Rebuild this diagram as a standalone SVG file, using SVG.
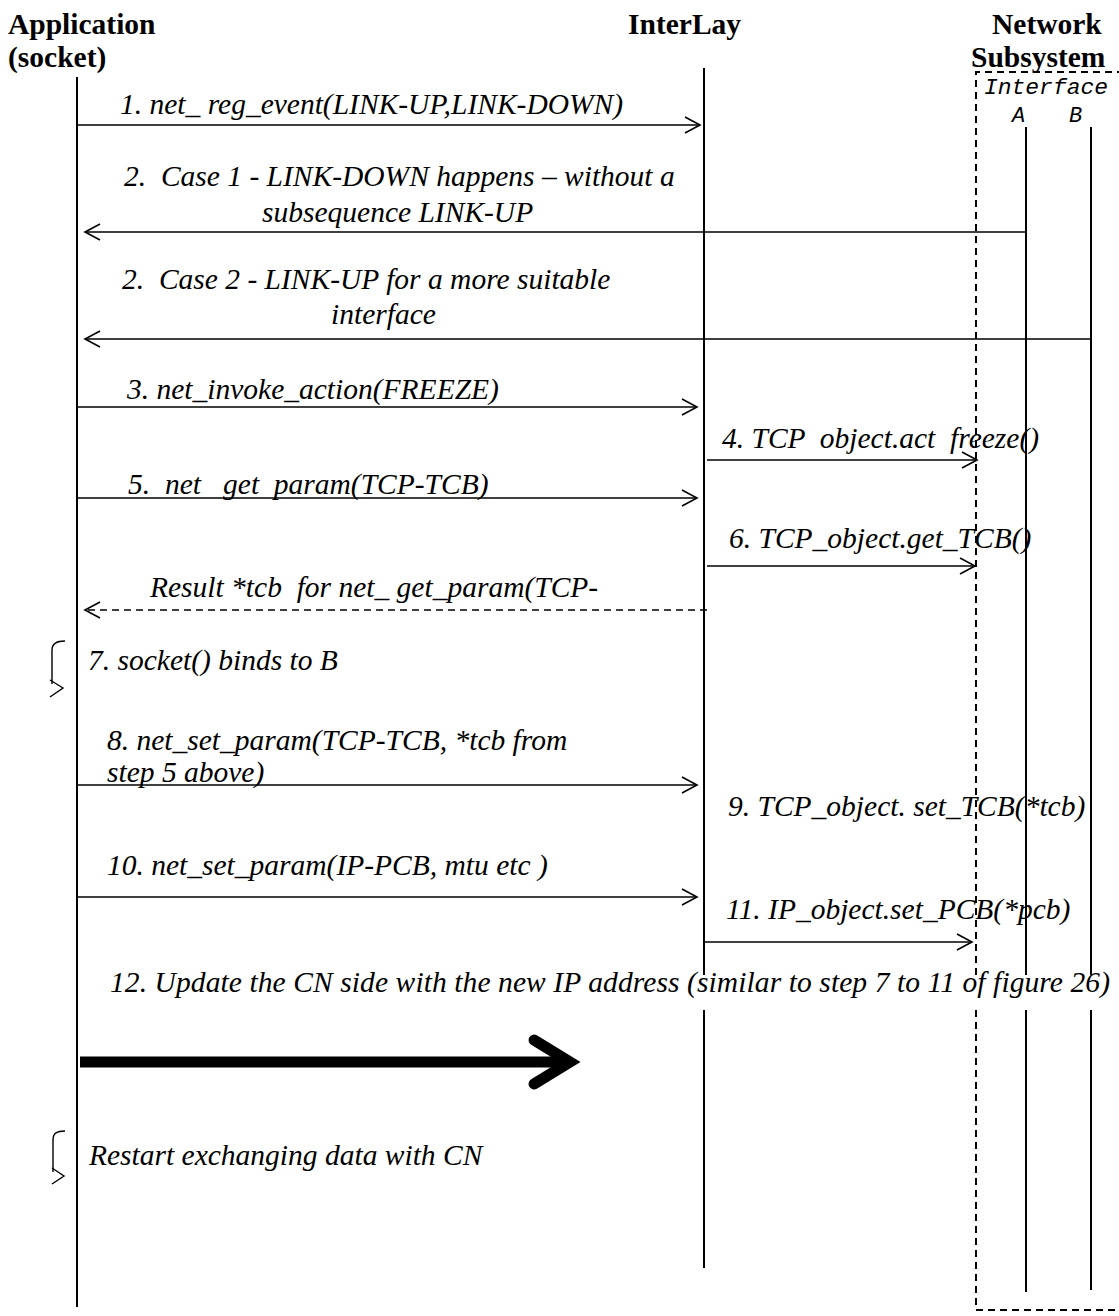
<svg xmlns="http://www.w3.org/2000/svg" width="1119" height="1316" viewBox="0 0 1119 1316">
<defs>
<marker id="open" markerUnits="userSpaceOnUse" markerWidth="20" markerHeight="20" refX="16" refY="9" orient="auto" overflow="visible">
<path d="M1,1 L16,9 L1,17" fill="none" stroke="#000" stroke-width="1.6"/>
</marker>
</defs>
<style>
.hd{font-family:"Liberation Serif","Times New Roman",serif;font-weight:bold;font-size:29.5px;fill:#000}
.lb{font-family:"Liberation Serif","Times New Roman",serif;font-style:italic;font-size:29.5px;fill:#000;white-space:pre}
.mono{font-family:"Liberation Mono","Courier New",monospace;font-style:italic;font-size:22px;fill:#000}
.life{stroke:#000;stroke-width:2;fill:none}
.msg{stroke:#000;stroke-width:1.6;fill:none;marker-end:url(#open)}
.dash{stroke:#000;stroke-width:2;fill:none;stroke-dasharray:7,5}
</style>
<rect width="1119" height="1316" fill="#fff"/>

<g id="application">
<text class="hd" x="8" y="34">Application</text>
<text class="hd" x="8" y="67">(socket)</text>
<line class="life" x1="77" y1="77" x2="77" y2="1307"/>
</g>

<g id="interlay">
<text class="hd" x="628" y="34">InterLay</text>
<line class="life" x1="704" y1="68" x2="704" y2="975"/>
<line class="life" x1="704" y1="1010" x2="704" y2="1268"/>
</g>

<g id="network-subsystem">
<text class="hd" x="992" y="34">Network</text>
<text class="hd" x="971" y="67">Subsystem</text>
<path class="dash" d="M976,975 L976,72 L1119,72"/>
<path class="dash" d="M976,1010 L976,1310 L1119,1310"/>
<text class="mono" x="984" y="94" textLength="124" lengthAdjust="spacingAndGlyphs">Interface</text>
</g>

<g id="interface-a">
<text class="mono" x="1012" y="122">A</text>
<line class="life" x1="1026" y1="127" x2="1026" y2="975"/>
<line class="life" x1="1026" y1="1010" x2="1026" y2="1292"/>
</g>

<g id="interface-b">
<text class="mono" x="1069" y="122">B</text>
<line class="life" x1="1091" y1="127" x2="1091" y2="975"/>
<line class="life" x1="1091" y1="1010" x2="1091" y2="1290"/>
</g>

<g id="connectors">
<line class="msg" x1="77" y1="125" x2="700" y2="125"/>
<line class="msg" x1="1026" y1="232" x2="85" y2="232"/>
<line class="msg" x1="1091" y1="339" x2="85" y2="339"/>
<line class="msg" x1="77" y1="407" x2="697" y2="407"/>
<line class="msg" x1="707" y1="460" x2="977" y2="460"/>
<line class="msg" x1="77" y1="498" x2="697" y2="498"/>
<line class="msg" x1="707" y1="566" x2="975" y2="566"/>
<line class="msg" x1="707" y1="610" x2="85" y2="610" stroke-dasharray="7,5"/>
<path d="M65,641 C57,641 52,643 52,650 L52,684" fill="none" stroke="#000" stroke-width="1.4"/>
<path d="M50,680 L63,688 L50,697" fill="none" stroke="#000" stroke-width="1.4"/>
<line class="msg" x1="77" y1="785" x2="697" y2="785"/>
<line class="msg" x1="77" y1="897" x2="697" y2="897"/>
<line class="msg" x1="704" y1="942" x2="972" y2="942"/>
<line x1="80" y1="1062" x2="565" y2="1062" stroke="#000" stroke-width="11"/>
<path d="M534,1040 L570,1062 L534,1084" fill="none" stroke="#000" stroke-width="11" stroke-linecap="round" stroke-linejoin="miter"/>
<path d="M65,1131 C57,1131 53,1133 53,1140 L53,1172" fill="none" stroke="#000" stroke-width="1.4"/>
<path d="M52,1168 L64,1176 L52,1184" fill="none" stroke="#000" stroke-width="1.4"/>
</g>

<g id="labels" xml:space="preserve">
<text class="lb" x="120" y="114">1. net_ reg_event(LINK-UP,LINK-DOWN)</text>
<text class="lb" x="124" y="186">2.  Case 1 - LINK-DOWN happens – without a</text>
<text class="lb" x="262" y="222">subsequence LINK-UP</text>
<text class="lb" x="122" y="289">2.  Case 2 - LINK-UP for a more suitable</text>
<text class="lb" x="331" y="324">interface</text>
<text class="lb" x="127" y="399">3. net_invoke_action(FREEZE)</text>
<text class="lb" x="722" y="448">4. TCP  object.act  freeze()</text>
<text class="lb" x="128" y="494">5.  net   get  param(TCP-TCB)</text>
<text class="lb" x="729" y="548">6. TCP_object.get_TCB()</text>
<text class="lb" x="150" y="597">Result *tcb  for net_ get_param(TCP-</text>
<text class="lb" x="88" y="670">7. socket() binds to B</text>
<text class="lb" x="107" y="750">8. net_set_param(TCP-TCB, *tcb from</text>
<text class="lb" x="107" y="782">step 5 above)</text>
<text class="lb" x="728" y="816">9. TCP_object. set_TCB(*tcb)</text>
<text class="lb" x="107" y="875">10. net_set_param(IP-PCB, mtu etc )</text>
<text class="lb" x="726" y="919">11. IP_object.set_PCB(*pcb)</text>
<text class="lb" x="110" y="992" textLength="1000" lengthAdjust="spacing">12. Update the CN side with the new IP address (similar to step 7 to 11 of figure 26)</text>
<text class="lb" x="89" y="1165">Restart exchanging data with CN</text>
</g>
</svg>
